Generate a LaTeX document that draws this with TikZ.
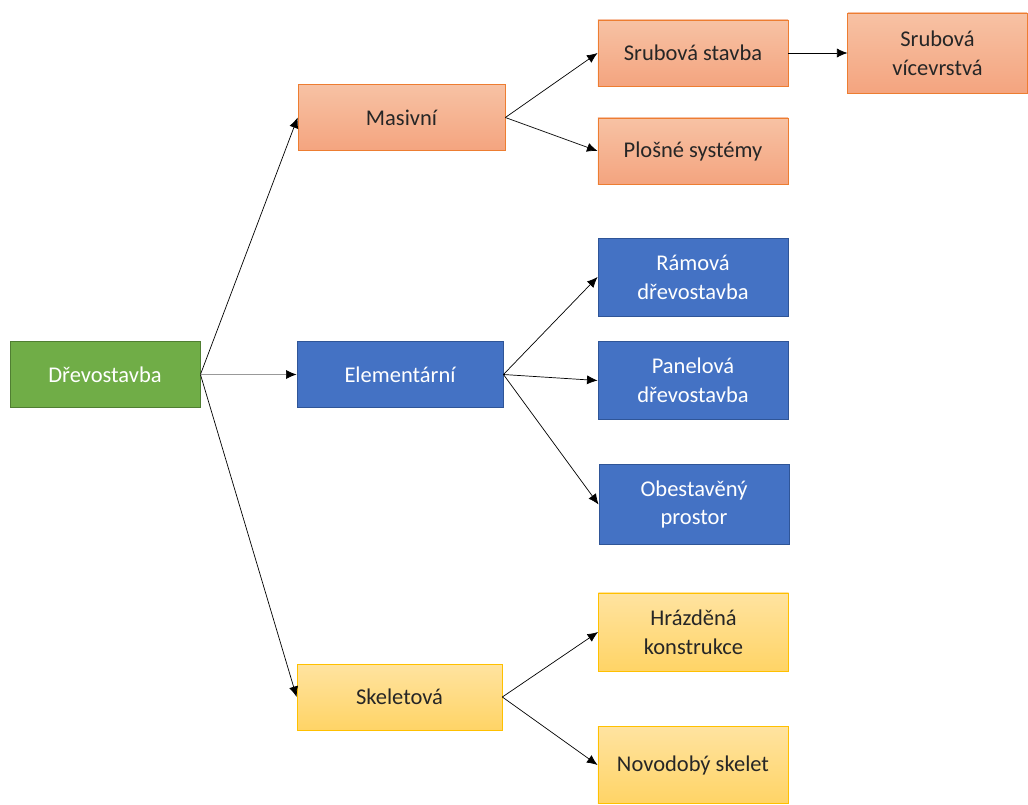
\documentclass[tikz,border=0pt]{standalone}
\usepackage{fontspec}
\setmainfont{Carlito}
\usetikzlibrary{arrows.meta}

\definecolor{orangeTop}{HTML}{F7C2A4}
\definecolor{orangeBot}{HTML}{F4A47F}
\definecolor{orangeLine}{HTML}{ED7D31}
\definecolor{blueFill}{HTML}{4472C4}
\definecolor{blueLine}{HTML}{2F5597}
\definecolor{yellowTop}{HTML}{FFE3A0}
\definecolor{yellowBot}{HTML}{FFD466}
\definecolor{yellowLine}{HTML}{FFC000}
\definecolor{greenFill}{HTML}{70AD47}
\definecolor{greenLine}{HTML}{507E32}

\begin{document}
\begin{tikzpicture}[x=0.025cm,y=-0.025cm]

    \tikzset{
      box/.style={
        rectangle,
        align=center,
        inner sep=0pt,
        font=\fontsize{16}{20.5}\selectfont,
        line width=0.6pt,
        minimum width=4.75cm,
        minimum height=1.65cm,
      },
      orangebox/.style={box, draw=orangeLine, top color=orangeTop, bottom color=orangeBot, text=black!85},
      bluebox/.style={box, draw=blueLine, fill=blueFill, text=white},
      yellowbox/.style={box, draw=yellowLine, top color=yellowTop, bottom color=yellowBot, text=black!85},
      greenbox/.style={box, draw=greenLine, fill=greenFill, text=white},
      link/.style={-{Latex[length=7.5pt,width=6.5pt,black]}, line width=0.5pt, black},
    }
    \useasboundingbox (0,0) rectangle (1028,804);

	\node[greenbox] (root) at (105,374.5) {Dřevostavba};

	\node[orangebox, minimum width=5.17cm] (masiv) at (401.5,117.5) {Masivní};
	\node[bluebox, minimum width=5.15cm] (elem) at (400,374.5) {Elementární};
	\node[yellowbox, minimum width=5.12cm] (skel) at (399.5,697) {Skeletová};

	\node[orangebox] (srub) at (693,53) {Srubová stavba};
	\node[orangebox, minimum width=4.48cm, minimum height=2cm] (srubvic) at (937.5,53) {Srubová\\vícevrstvá};
	\node[orangebox] (plos) at (693,151) {Plošné systémy};

	\node[bluebox, minimum height=1.95cm] (ram) at (693,277) {Rámová\\dřevostavba};
	\node[bluebox, minimum height=1.93cm] (panel) at (693,380.5) {Panelová\\dřevostavba};
	\node[bluebox, minimum height=2.02cm] (obest) at (694,504.5) {Obestavěný\\prostor};

	\node[yellowbox, minimum height=1.95cm] (hraz) at (693.5,632) {Hrázděná\\konstrukce};
	\node[yellowbox, minimum height=1.93cm] (novo) at (693,765) {Novodobý skelet};

	% first level
	\draw[link] (root.east) -- (masiv.west);
	\draw[link, draw=black!40] (root.east) -- (elem.west);
	\draw[link] (root.east) -- (skel.west);

	% second level
	\draw[link] (masiv.east) -- (srub.west);
	\draw[link] (masiv.east) -- (plos.west);
	\draw[link] (srub.east) -- (srubvic.west);
	\draw[link] (elem.east) -- (ram.west);
	\draw[link] (elem.east) -- (panel.west);
	\draw[link] (elem.east) -- (obest.west);
	\draw[link] (skel.east) -- (hraz.west);
	\draw[link] (skel.east) -- (novo.west);

\end{tikzpicture}
\end{document}
